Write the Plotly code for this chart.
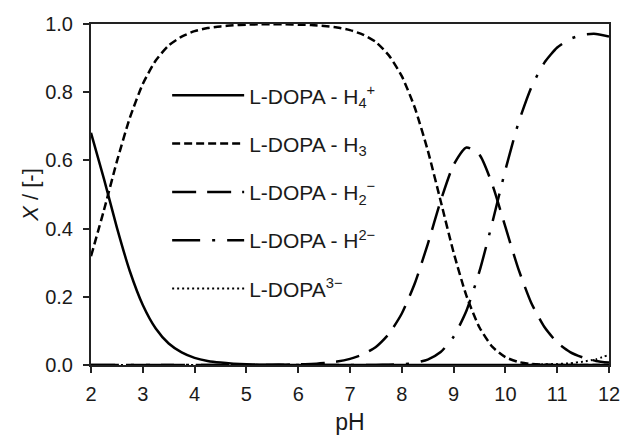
import plotly.graph_objects as go

pH = [2.0, 2.25, 2.5, 2.75, 3.0, 3.25, 3.5, 3.75, 4.0, 4.25, 4.5, 4.75, 5.0, 5.25, 5.5, 5.75,
      6.0, 6.25, 6.5, 6.75, 7.0, 7.25, 7.5, 7.75, 8.0, 8.25, 8.5, 8.75, 9.0, 9.25, 9.5, 9.75,
      10.0, 10.25, 10.5, 10.75, 11.0, 11.25, 11.5, 11.75, 12.0]

x_H4 = [0.681, 0.546, 0.403, 0.275, 0.176, 0.107, 0.063, 0.037, 0.021, 0.012, 0.007, 0.004, 0.002, 0.001, 0.001, 0.0,
        0.0, 0.0, 0.0, 0.0, 0.0, 0.0, 0.0, 0.0, 0.0, 0.0, 0.0, 0.0, 0.0, 0.0, 0.0, 0.0,
        0.0, 0.0, 0.0, 0.0, 0.0, 0.0, 0.0, 0.0, 0.0]
x_H3 = [0.319, 0.454, 0.597, 0.725, 0.824, 0.893, 0.937, 0.963, 0.979, 0.988, 0.993, 0.996, 0.998, 0.999, 0.999, 0.999,
        0.998, 0.997, 0.994, 0.990, 0.982, 0.969, 0.947, 0.908, 0.847, 0.755, 0.630, 0.481, 0.330, 0.202, 0.110, 0.053,
        0.023, 0.009, 0.003, 0.001, 0.0, 0.0, 0.0, 0.0, 0.0]
x_H2 = [0.0, 0.0, 0.0, 0.0, 0.0, 0.0, 0.0, 0.0, 0.0, 0.0, 0.0, 0.0, 0.0, 0.0, 0.0, 0.001,
        0.002, 0.003, 0.006, 0.010, 0.018, 0.031, 0.053, 0.091, 0.151, 0.239, 0.354, 0.481, 0.587, 0.638, 0.616, 0.528,
        0.405, 0.282, 0.182, 0.112, 0.066, 0.038, 0.022, 0.012, 0.007]
x_H1 = [0.0, 0.0, 0.0, 0.0, 0.0, 0.0, 0.0, 0.0, 0.0, 0.0, 0.0, 0.0, 0.0, 0.0, 0.0, 0.0,
        0.0, 0.0, 0.0, 0.0, 0.0, 0.0, 0.0, 0.001, 0.002, 0.006, 0.016, 0.038, 0.083, 0.160, 0.275, 0.419,
        0.572, 0.709, 0.814, 0.886, 0.931, 0.956, 0.969, 0.971, 0.963]
x_L = [0.0, 0.0, 0.0, 0.0, 0.0, 0.0, 0.0, 0.0, 0.0, 0.0, 0.0, 0.0, 0.0, 0.0, 0.0, 0.0,
       0.0, 0.0, 0.0, 0.0, 0.0, 0.0, 0.0, 0.0, 0.0, 0.0, 0.0, 0.0, 0.0, 0.0, 0.0, 0.0,
       0.0, 0.0, 0.001, 0.002, 0.003, 0.005, 0.010, 0.017, 0.030]

names = ["L-DOPA - H<sub>4</sub><sup>+</sup>",
         "L-DOPA - H<sub>3</sub>",
         "L-DOPA - H<sub>2</sub><sup>\u2212</sup>",
         "L-DOPA - H<sup>2\u2212</sup>",
         "L-DOPA<sup>3\u2212</sup>"]
series = [x_H4, x_H3, x_H2, x_H1, x_L]
dashes = ["solid", "8px,4px", "24px,11px", "28px,12px,3px,12px", "2px,3px"]
widths = [2.5, 2.5, 2.5, 2.5, 2]

fig = go.Figure()
for i, (nm, ys, ds, w) in enumerate(zip(names, series, dashes, widths)):
    fig.add_trace(go.Scatter(x=pH, y=ys, mode="lines", name=nm, legendgroup=f"g{i}",
                             line=dict(color="black", width=w, dash=ds, shape="spline", smoothing=0.6)))

font_family = "Liberation Sans, Arial, sans-serif"
fig.update_layout(
    width=624, height=438,
    margin=dict(l=91, r=15, t=24, b=73),
    paper_bgcolor="white", plot_bgcolor="white",
    font=dict(family=font_family, color="#1a1a1a"),
    showlegend=True,
    legend=dict(x=0.147, y=0.85, xanchor="left", yanchor="top", bgcolor="rgba(0,0,0,0)",
                font=dict(size=21, family=font_family, color="#1a1a1a"),
                itemwidth=72, tracegroupgap=18, traceorder="grouped"),
)
fig.update_xaxes(range=[2, 12], dtick=1, tick0=2, ticks="outside", ticklen=6, tickwidth=1.5,
                 tickcolor="#222", showline=True, linewidth=2, linecolor="#222", mirror=True,
                 showgrid=False, zeroline=False, tickfont=dict(size=20), automargin=False,
                 ticklabelstandoff=4,
                 title=dict(text="pH", font=dict(size=23), standoff=10))
fig.update_yaxes(range=[0, 1], dtick=0.2, tick0=0, tickformat=".1f", ticks="outside", ticklen=6,
                 tickwidth=1.5, tickcolor="#222", showline=True, linewidth=2, linecolor="#222",
                 mirror=True, showgrid=False, zeroline=False, tickfont=dict(size=20),
                 ticklabelstandoff=6, automargin=False,
                 title=dict(text="<i>X</i> / [-]", font=dict(size=22), standoff=0))

fig.write_html("out.html")
